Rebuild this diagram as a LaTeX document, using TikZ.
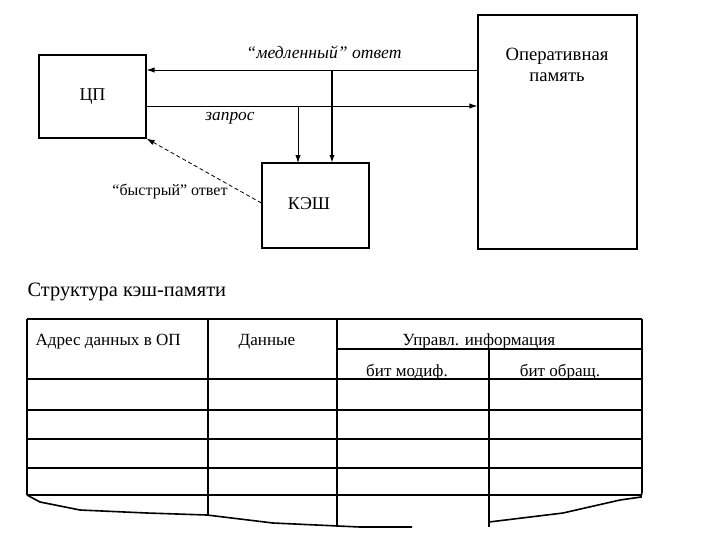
\documentclass[tikz,border=0pt]{standalone}
\usepackage{fontspec}
\setmainfont{Liberation Serif}
\usetikzlibrary{arrows.meta, positioning, calc}

\begin{document}
\begin{tikzpicture}[
    x=0.75pt, y=-0.75pt,
    unit/.style={draw, line width=1.2pt, inner sep=0pt, font=\fontsize{13.5}{15}\selectfont},
    link/.style={draw, line width=0.6pt, -{Latex[length=6pt,width=4pt]}},
    lbl/.style={font=\fontsize{12}{14}\selectfont, inner sep=1pt},
    grid/.style={draw, line width=1.2pt},
    cell/.style={font=\fontsize{12.8}{14}\selectfont, inner sep=1pt}
]
\useasboundingbox (0,0) rectangle (720,540);
% blocks
\node[unit, minimum width=80pt, minimum height=62pt] (cpu)   at (92.5,96.5)  {ЦП};
\node[unit, minimum width=80pt, minimum height=64pt] (cache) at (315.5,205.5) {};
\node[unit, draw=none] (cachetxt) at (309,204) {КЭШ};
\node[unit, minimum width=119pt, minimum height=175.5pt] (ram) at (557.5,132) {};
\node[lbl, align=center, font=\fontsize{14}{16}\selectfont] (ramtxt) at (557,65) {Оперативная\\память};
% connectors
\coordinate (slow) at (0,70);
\coordinate (req)  at (0,106);
\coordinate (fast) at (0,203);
\draw[link] (ram.west |- slow) -- (cpu.east |- slow);
\draw[link] (cpu.east |- req) -- (ram.west |- req);
\draw[link, line width=1.5pt] (332,70) -- (332,163);
\draw[link] (298,106) -- (298,163);
\draw[link, densely dashed] (cache.west |- fast) -- (cpu.south east);
\node[lbl, font=\fontsize{13.2}{15}\itshape] (slowtxt) at (324,52)  {“медленный” ответ};
\node[lbl, font=\fontsize{13}{15}\itshape] (reqtxt)  at (230,118) {запрос};
\node[lbl] (fasttxt) at (170,191) {“быстрый” ответ};
% cache structure table
\node[lbl, anchor=west, font=\fontsize{15.3}{17}\selectfont] (title) at (26,292) {Структура кэш-памяти};
\draw[grid] (27,319) -- (642,319);
\draw[grid] (337,349) -- (642,349);
\foreach \row in {379,410,439,468,495}
  \draw[grid] (27,\row) -- (642,\row);
\draw[grid] (27,319) -- (27,495);
\draw[grid] (642,319) -- (642,493);
\draw[grid] (208,319) -- (208,515);
\draw[grid] (337,319) -- (337,527);
\draw[grid] (489,349) -- (489,527);
% torn edge
\draw[grid] (27,495) -- (40,502) -- (80,510) -- (147,513) -- (207,515)
            -- (273,523) -- (360,527) -- (412,527);
\draw[grid] (489,522) -- (563,513) -- (620,500) -- (641,497) -- (642,492);
\node[cell, anchor=west] (addr) at (34,342) {Адрес данных в ОП};
\node[cell] (data) at (267,342) {Данные};
\node[cell] (ctrl) at (479,341) {Управл. информация};
\node[cell] (mod)  at (407,372) {бит модиф.};
\node[cell] (acc)  at (560,372) {бит обращ.};
\end{tikzpicture}
\end{document}
